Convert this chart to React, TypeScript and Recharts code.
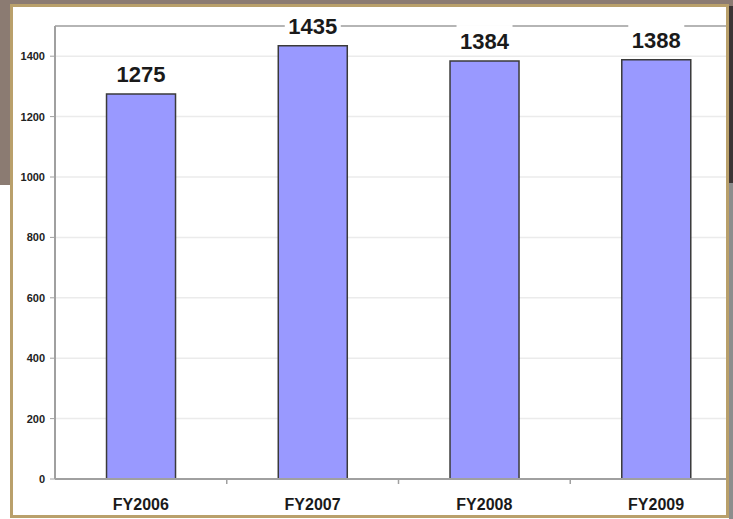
import { Bar, BarChart, CartesianGrid, LabelList, ReferenceLine, XAxis, YAxis } from "recharts";

const categories = ["FY2006", "FY2007", "FY2008", "FY2009"];
const totals = [1275, 1435, 1384, 1388];
const yTicks = [0, 200, 400, 600, 800, 1000, 1200, 1400];
const yMax = 1500;

const data = categories.map((name, i) => ({ name, value: totals[i] }));

const font = "'Liberation Sans', Arial, sans-serif";

const ValueLabel = (props: any) => {
  const { x, y, width, value } = props;
  const cx = x + width / 2;
  return (
    <g>
      <rect x={cx - 28} y={y - 36} width={56} height={30} fill="#fff" />
      <text
        x={cx}
        y={y - 12}
        textAnchor="middle"
        fontFamily={font}
        fontWeight="bold"
        fontSize={22}
        fill="#1a1a1a"
      >
        {value}
      </text>
    </g>
  );
};

const CategoryTick = (props: any) => {
  const { x, y, payload, index } = props;
  const half = payload.offset || 0;
  return (
    <g>
      {index > 0 && (
        <line x1={x - half} x2={x - half} y1={y} y2={y + 5} stroke="#a0a0a0" strokeWidth={1.5} />
      )}
      <text
        x={x}
        y={y + 31}
        textAnchor="middle"
        fontFamily={font}
        fontWeight="bold"
        fontSize={16}
        fill="#1a1a1a"
      >
        {payload.value}
      </text>
    </g>
  );
};

const App = () => {
  return (
    <div
      style={{
        position: "fixed",
        left: 0,
        top: 0,
        width: 733,
        height: 519,
        background: "#fff",
        overflow: "hidden",
      }}
    >
      {/* backdrop behind the framed panel */}
      <div style={{ position: "absolute", left: 0, top: 0, width: 733, height: 185, background: "#8b7b72" }} />
      <div style={{ position: "absolute", left: 729, top: 6, width: 4, height: 177, background: "#3c3535" }} />
      <div style={{ position: "absolute", left: 729, top: 183, width: 4, height: 336, background: "#8d8d8d" }} />

      <div
        style={{
          position: "absolute",
          left: 10,
          top: 4,
          width: 719,
          height: 514,
          border: "3px solid #b9a06b",
          boxSizing: "border-box",
          background: "#fff",
          overflow: "hidden",
        }}
      >
        <BarChart
          width={729}
          height={508}
          data={data}
          margin={{ top: 19, right: 0, bottom: 0, left: 0 }}
          barCategoryGap="30%"
        >
          <CartesianGrid vertical={false} stroke="#ebebeb" strokeWidth={1.5} />
          <ReferenceLine y={yMax} stroke="#b5b5b5" strokeWidth={2} />
          <XAxis
            dataKey="name"
            height={36}
            tickSize={0}
            tickMargin={0}
            axisLine={{ stroke: "#a0a0a0", strokeWidth: 2 }}
            tickLine={false}
            tick={<CategoryTick />}
            interval={0}
          />
          <YAxis
            width={42}
            domain={[0, yMax]}
            ticks={yTicks}
            interval={0}
            tickSize={5}
            tickMargin={5}
            axisLine={{ stroke: "#a0a0a0", strokeWidth: 2 }}
            tickLine={{ stroke: "#a0a0a0" }}
            tick={{ fill: "#222", fontSize: 11, fontWeight: "bold", fontFamily: font }}
          />
          <Bar
            dataKey="value"
            fill="#9999ff"
            stroke="#3a3a3a"
            strokeWidth={1.5}
            isAnimationActive={false}
          >
            <LabelList dataKey="value" content={<ValueLabel />} />
          </Bar>
        </BarChart>
      </div>
    </div>
  );
};

export default App;
